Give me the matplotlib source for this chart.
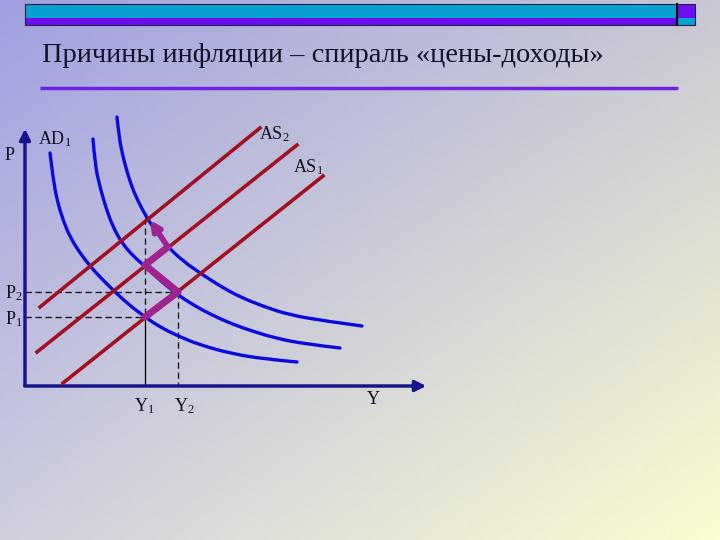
import matplotlib.pyplot as plt
import numpy as np
from matplotlib.path import Path
from matplotlib.patches import PathPatch

plt.rcParams['font.family'] = ['Liberation Serif', 'DejaVu Serif']
plt.rcParams['mathtext.fontset'] = 'custom'
plt.rcParams['mathtext.rm'] = 'Liberation Serif'
plt.rcParams['mathtext.it'] = 'Liberation Serif'

# diagram coordinates (pixel grid of the slide, y grows downwards)
title = 'Причины инфляции – спираль «цены-доходы»'

# aggregate demand curves AD1, AD2, AD3
ad1_x = [50, 53, 57, 63, 70, 80, 90, 100, 113, 128, 145, 160, 178, 200, 233, 265, 297]
ad1_y = [153, 178, 200, 220, 237, 253, 266, 277, 290, 304, 317, 327, 336, 345, 354, 359, 362]
ad2_x = [93, 95, 100, 106, 113, 122, 133, 147, 162, 178, 195, 212, 232, 252, 275, 305, 340]
ad2_y = [139, 165, 187, 208, 227, 243, 256, 268, 282, 295, 306, 315, 324, 331, 338, 344, 348]
ad3_x = [117, 119, 123, 128, 133, 140, 147, 157, 168, 183, 200, 220, 240, 265, 290, 325, 362]
ad3_y = [117, 137, 157, 175, 190, 205, 218, 233, 247, 261, 273, 286, 297, 307, 315, 321, 326]

# aggregate supply lines AS2 (top), middle, AS1 (bottom)
as_top = [(40, 307), (260, 128)]
as_mid = [(37, 352), (297, 145)]
as_bot = [(63, 383), (323, 176)]

# spiral path
spiral_x = [145, 178, 145, 168, 150]
spiral_y = [317, 292, 265, 247, 220]

# equilibrium levels
p1, p2 = 317, 292
y1, y2 = 145, 178
y_top = 218


def smooth_path(xs, ys):
    # quadratic B-spline style path: read points act as control points
    pts = list(zip(xs, ys))
    verts = [pts[0]]
    codes = [Path.MOVETO]
    for i in range(1, len(pts) - 1):
        mid = ((pts[i][0] + pts[i+1][0]) / 2, (pts[i][1] + pts[i+1][1]) / 2)
        end = pts[i+1] if i == len(pts) - 2 else mid
        verts += [pts[i], end]
        codes += [Path.CURVE3, Path.CURVE3]
    return Path(verts, codes)


fig = plt.figure(figsize=(7.2, 5.4), dpi=100)
ax = fig.add_axes([0, 0, 1, 1])
ax.set_xlim(0, 720)
ax.set_ylim(540, 0)
ax.axis('off')

# gradient background: four corner colours
c_tl = np.array([160, 160, 226]) / 255
c_tr = np.array([200, 200, 212]) / 255
c_bl = np.array([206, 206, 222]) / 255
c_br = np.array([252, 252, 208]) / 255
u = np.linspace(0, 1, 200)[None, :, None]
v = np.linspace(0, 1, 150)[:, None, None]
bg = (1-u)*(1-v)*c_tl + u*(1-v)*c_tr + (1-u)*v*c_bl + u*v*c_br
ax.imshow(bg, extent=[0, 720, 540, 0], aspect='auto', zorder=0)

# header bar
ax.add_patch(plt.Rectangle((25, 4), 652, 14, fc='#0aa0d2', ec='none', zorder=1))
ax.add_patch(plt.Rectangle((25, 18), 652, 7, fc='#6a10f0', ec='none', zorder=1))
ax.add_patch(plt.Rectangle((678, 4), 17, 14, fc='#6a10f0', ec='none', zorder=1))
ax.add_patch(plt.Rectangle((678, 18), 17, 7, fc='#0aa0d2', ec='none', zorder=1))
ax.add_patch(plt.Rectangle((25, 4), 670, 21, fc='none', ec='#202040', lw=0.8, zorder=2))
ax.plot([677, 677], [4, 25], color='black', lw=1.5, zorder=2)

ax.text(42, 55, title, fontsize=20.4, color='#101028', va='center', ha='left')
ax.plot([40, 678], [88, 88], color='#7020e0', lw=2.5, solid_capstyle='butt')

# axes of the diagram
ax.annotate('', xy=(25, 126), xytext=(25, 388),
            arrowprops=dict(arrowstyle='-|>', color='#16168a', lw=2.5, mutation_scale=16))
ax.annotate('', xy=(429, 386), xytext=(22, 386),
            arrowprops=dict(arrowstyle='-|>', color='#16168a', lw=2.5, mutation_scale=16))

# dashed guides
dash = dict(color='black', lw=0.9, ls=(0, (5, 3)))
ax.plot([25, y1], [p1, p1], **dash)
ax.plot([25, y2], [p2, p2], **dash)
ax.plot([y1, y1], [y_top, p1], **dash)
ax.plot([y1, y1], [p1, 386], color='black', lw=0.9)
ax.plot([y2, y2], [p2, 386], **dash)

# AD curves
for xs, ys in [(ad1_x, ad1_y), (ad2_x, ad2_y), (ad3_x, ad3_y)]:
    ax.add_patch(PathPatch(smooth_path(xs, ys), fc='none', ec='#0a0ae0', lw=2.4,
                           capstyle='round', zorder=3))

# AS lines
for seg in [as_top, as_mid, as_bot]:
    ax.plot([seg[0][0], seg[1][0]], [seg[0][1], seg[1][1]], color='#a01020', lw=2.6, zorder=4)

# spiral
ax.plot(spiral_x[:-1], spiral_y[:-1], color='#a0228e', lw=5, solid_joinstyle='round',
        solid_capstyle='round', zorder=5)
ax.annotate('', xy=(spiral_x[-1], spiral_y[-1]), xytext=(spiral_x[-2], spiral_y[-2]),
            arrowprops=dict(arrowstyle='-|>', color='#a0228e', lw=4, mutation_scale=14,
                            shrinkA=0, shrinkB=0), zorder=5)

# labels
lab = dict(fontsize=13, color='#101020', va='center', ha='left')
ax.text(5, 155, 'P', **lab)
ax.text(38, 139, r'$\mathrm{AD}_1$', **lab)
ax.text(259, 134, r'$\mathrm{AS}_2$', **lab)
ax.text(293, 167, r'$\mathrm{AS}_1$', **lab)
ax.text(5, 293, r'$\mathrm{P}_2$', **lab)
ax.text(5, 319, r'$\mathrm{P}_1$', **lab)
ax.text(134, 406, r'$\mathrm{Y}_1$', **lab)
ax.text(174, 406, r'$\mathrm{Y}_2$', **lab)
ax.text(367, 399, 'Y', **lab)

fig.savefig('out.png', dpi=100)
